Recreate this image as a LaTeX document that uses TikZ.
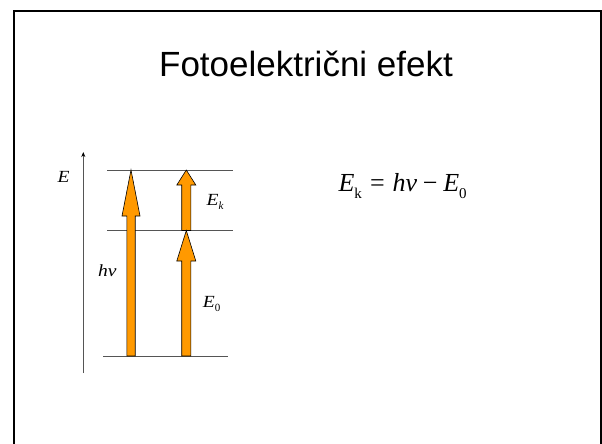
\documentclass[tikz,border=0pt]{standalone}
\usepackage{fontspec}
\setmainfont{Liberation Serif}
\newfontfamily\titlefont{Liberation Sans}
\usetikzlibrary{arrows.meta}
\definecolor{arrorange}{HTML}{FF9900}
\definecolor{levelgray}{HTML}{555555}
\newcommand\myblockarrow[6]{% x, ytip, yheadbase, ybottom, half shaft, half head
  \filldraw[blockarrow] (#1-#5,#4) -- (#1-#5,#3) -- (#1-#6,#3) -- (#1,#2) -- (#1+#6,#3) -- (#1+#5,#3) -- (#1+#5,#4) -- cycle;}
\tikzset{
  blockarrow/.style={fill=arrorange, draw=black, line width=0.6pt, line join=miter},
  level/.style={draw=levelgray, line width=1pt},
  lab/.style={anchor=base west, inner sep=0pt, font=\fontsize{17}{17}\selectfont\itshape},
}
\begin{document}
\begin{tikzpicture}[x=1pt,y=-1pt]
\useasboundingbox (0,0) rectangle (602,444);
\fill[white] (0,0) rectangle (602,444);
% frame
\draw[line width=2pt] (13.5,446) -- (13.5,11.5) -- (601,11.5) -- (601,446);
% title
\node[anchor=base, inner sep=0pt, font=\titlefont\fontsize{35}{35}\selectfont] (title) at (306,76.7) {Fotoelektrični efekt};
% axis
\coordinate (axb) at (83.3,373);
\coordinate (axt) at (83.3,152);
\draw[draw=levelgray, line width=1pt, -{Stealth[length=5pt,width=4pt,color=black]}] (axb) -- (axt);
% levels
\coordinate (t1) at (107,170); \coordinate (t2) at (233,170);
\coordinate (m1) at (107,230.5); \coordinate (m2) at (233,230.5);
\coordinate (b1) at (103,356); \coordinate (b2) at (228,356);
\draw[level] (t1) -- (t2);
\draw[level] (m1) -- (m2);
\draw[level] (b1) -- (b2);
% block arrows
\myblockarrow{131}{170}{216}{356}{4.2}{9}
\myblockarrow{186.3}{170}{185}{230.5}{4.6}{9.5}
\myblockarrow{186.3}{230.5}{261}{356}{4.6}{9.5}
% labels
\node[lab] (lE) at (57.5,182.5) {\scalebox{1.15}[1]{E}};
\node[lab] (lEk) at (206.5,205.5) {\scalebox{1.15}[1]{E}\raisebox{-0.25em}{\fontsize{11}{11}\selectfont k}};
\node[lab] (lhv) at (98,276.5) {\scalebox{1.15}[1]{hv}};
\node[lab] (lE0) at (202.7,307) {\scalebox{1.15}[1]{E}\raisebox{-0.25em}{\fontsize{11}{11}\selectfont\upshape 0}};
% equation
\node[anchor=base west, inner sep=0pt, font=\fontsize{26}{26}\selectfont] (eq) at (338.3,191.3)
  {\textit{E}\raisebox{-0.28em}{\fontsize{15}{15}\selectfont k}\hspace{0.32em}=\hspace{0.3em}\textit{hν}\hspace{0.22em}−\hspace{0.22em}\textit{E}\raisebox{-0.28em}{\fontsize{15}{15}\selectfont 0}};
\end{tikzpicture}
\end{document}
